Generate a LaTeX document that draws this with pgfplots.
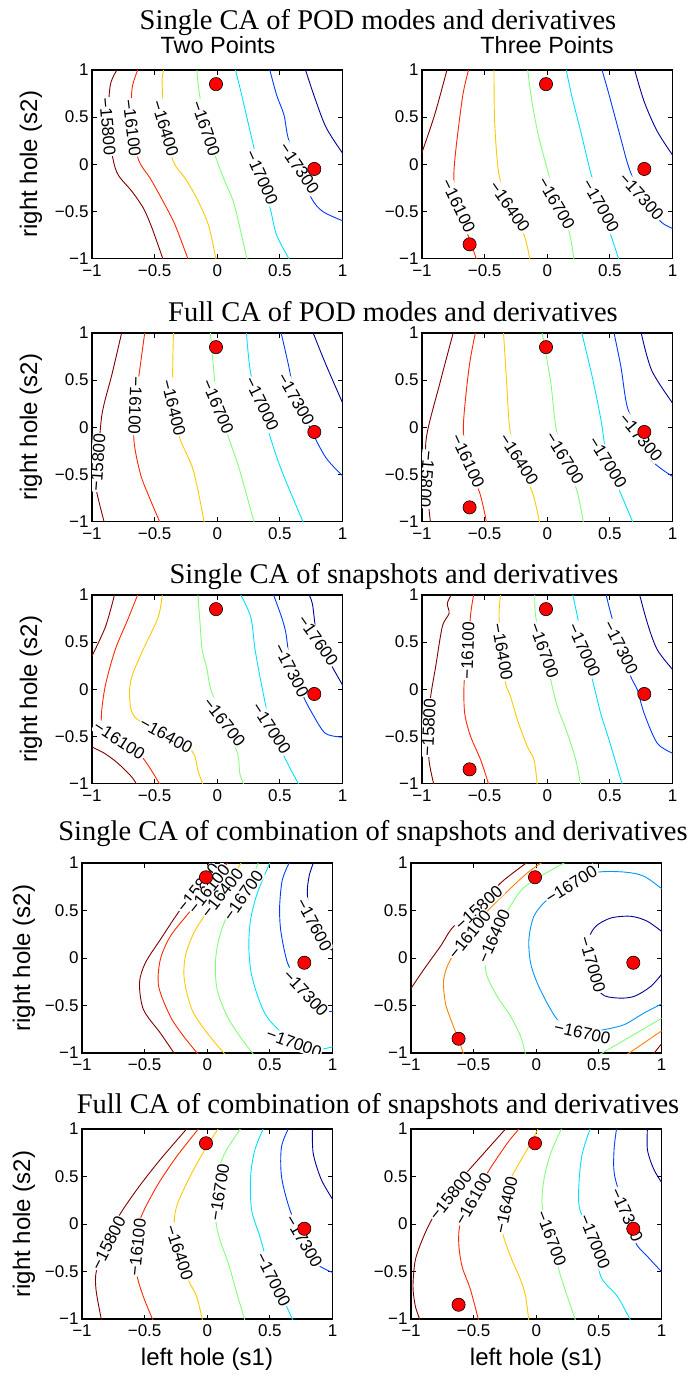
\documentclass[border=0pt]{standalone}
\usepackage{fontspec}
\setmainfont{Liberation Sans}
\newfontfamily\tnr{Liberation Serif}
\usepackage{pgfplots}
\pgfplotsset{compat=1.18}

\definecolor{c158}{RGB}{128,0,0}
\definecolor{c161}{RGB}{255,40,0}
\definecolor{c164}{RGB}{255,200,0}
\definecolor{c167}{RGB}{130,255,120}
\definecolor{c170}{RGB}{0,225,255}
\definecolor{c173}{RGB}{0,60,255}
\definecolor{c176}{RGB}{0,0,150}
\definecolor{q161}{RGB}{255,128,0}
\definecolor{q167}{RGB}{0,150,255}

\pgfplotsset{
  panel/.style={scale only axis, width=250.5pt, height=188.5pt, anchor=north west,
    xmin=-1, xmax=1, ymin=-1, ymax=1,
    xtick={-1,-0.5,0,0.5,1}, ytick={-1,-0.5,0,0.5,1},
    xticklabels={−1,−0.5,0,0.5,1}, yticklabels={−1,−0.5,0,0.5,1},
    tick align=inside, major tick length=4.5pt,
    tick style={black, line width=0.8pt},
    axis line style={line width=1.1pt},
    tick label style={font=\fontsize{17}{17}\selectfont},
    xticklabel style={yshift=-2.5pt},
  },
  cl/.style={line width=0.9pt, smooth, tension=0.5},
  dots/.style={only marks, mark=*, mark size=6.6pt,
    mark options={fill=red, draw=black, line width=0.6pt}},
}
\tikzset{lab/.style={font=\fontsize{17}{17}\selectfont, fill=white, inner sep=0.8pt}}

\begin{document}
\begin{tikzpicture}[x=1pt,y=1pt]
\useasboundingbox (0,0) rectangle (689,-1376);

% titles
\tikzset{ttl/.style={anchor=base, font=\tnr\fontsize{28.5}{28.5}\selectfont}}
\node[ttl] at (378,-29) {Single CA of POD modes and derivatives};
\node[ttl] at (393,-321) {Full CA of POD modes and derivatives};
\node[ttl] at (394,-583) {Single CA of snapshots and derivatives};
\node[ttl] at (373,-840) {Single CA of combination of snapshots and derivatives};
\node[ttl] at (378,-1113) {Full CA of combination of snapshots and derivatives};
\node[anchor=base, font=\fontsize{23.5}{23.5}\selectfont] at (218,-53) {Two Points};
\node[anchor=base, font=\fontsize{23.5}{23.5}\selectfont] at (547,-53) {Three Points};
\foreach \xx/\yy in {31/-164, 31/-427, 31/-689, 24/-958, 24/-1224}
  \node[rotate=90, font=\fontsize{24}{24}\selectfont] at (\xx,\yy) {right hole (s2)};
\node[anchor=base, font=\fontsize{24}{24}\selectfont] at (207,-1365) {left hole (s1)};
\node[anchor=base, font=\fontsize{24}{24}\selectfont] at (536,-1365) {left hole (s1)};

% ---- row 1 left
\begin{axis}[panel, at={(92pt,-70pt)}]
\addplot[cl, c158] coordinates {(-0.79,1.02) (-0.854,0.84) (-0.87,0.42) (-0.833,0.06) (-0.79,-0.115) (-0.68,-0.29) (-0.588,-0.47) (-0.52,-0.68) (-0.43,-1.02)};
\addplot[cl, c161] coordinates {(-0.628,1.02) (-0.68,0.805) (-0.685,0.4) (-0.628,0.044) (-0.535,-0.15) (-0.43,-0.40) (-0.336,-0.646) (-0.23,-1.02)};
\addplot[cl, c164] coordinates {(-0.424,1.02) (-0.44,0.876) (-0.42,0.4) (-0.35,0.027) (-0.256,-0.15) (-0.163,-0.363) (-0.07,-0.646) (-0.009,-1.02)};
\addplot[cl, c167] coordinates {(-0.163,1.02) (-0.15,0.823) (-0.097,0.398) (-0.004,0.044) (0.062,-0.186) (0.129,-0.398) (0.182,-0.681) (0.24,-1.02)};
\addplot[cl, c170] coordinates {(0.142,1.02) (0.195,0.735) (0.288,0.204) (0.355,-0.143) (0.426,-0.487) (0.474,-0.752) (0.58,-1.02)};
\addplot[cl, c173] coordinates {(0.416,1.02) (0.474,0.735) (0.533,0.522) (0.567,0.274) (0.655,-0.044) (0.753,-0.363) (0.846,-0.504) (1.02,-0.61)};
\addplot[cl, c176] coordinates {(0.7,1.02) (0.78,0.70) (0.873,0.38) (1.02,0.08)};
\node[lab, rotate=-85] at (axis cs:-0.875,0.398) {−15800};
\node[lab, rotate=-83] at (axis cs:-0.681,0.388) {−16100};
\node[lab, rotate=-73] at (axis cs:-0.416,0.381) {−16400};
\node[lab, rotate=-71] at (axis cs:-0.092,0.381) {−16700};
\node[lab, rotate=-66] at (axis cs:0.355,-0.143) {−17000};
\node[lab, rotate=-56] at (axis cs:0.655,-0.044) {−17300};
\addplot[dots] coordinates {(-0.01,0.85) (0.775,-0.05)};
\end{axis}

% ---- row 1 right
\begin{axis}[panel, at={(422pt,-70pt)}]
\addplot[cl, c158] coordinates {(-1.02,0.05) (-0.9,0.52) (-0.797,1.02)};
\addplot[cl, c161] coordinates {(-0.624,1.02) (-0.678,0.7) (-0.745,-0.08) (-0.71,-0.441) (-0.585,-0.93) (-0.563,-1.02)};
\addplot[cl, c164] coordinates {(-0.425,1.02) (-0.42,0.45) (-0.385,-0.115) (-0.3,-0.451) (-0.185,-0.75) (-0.137,-1.02)};
\addplot[cl, c167] coordinates {(-0.158,1.02) (-0.118,0.628) (-0.065,0.274) (0.009,-0.097) (0.073,-0.416) (0.174,-0.717) (0.214,-1.02)};
\addplot[cl, c170] coordinates {(0.148,1.02) (0.2,0.7) (0.268,0.345) (0.348,-0.097) (0.427,-0.441) (0.507,-0.75) (0.574,-1.02)};
\addplot[cl, c173] coordinates {(0.433,1.02) (0.494,0.735) (0.587,0.274) (0.654,-0.044) (0.752,-0.345) (0.907,-0.61) (1.02,-0.69)};
\addplot[cl, c176] coordinates {(0.694,1.02) (0.774,0.664) (0.88,0.345) (1.02,0.06)};
\node[lab, rotate=-64] at (axis cs:-0.71,-0.441) {−16100};
\node[lab, rotate=-55] at (axis cs:-0.3,-0.451) {−16400};
\node[lab, rotate=-60] at (axis cs:0.073,-0.416) {−16700};
\node[lab, rotate=-60] at (axis cs:0.427,-0.441) {−17000};
\node[lab, rotate=-48] at (axis cs:0.752,-0.345) {−17300};
\addplot[dots] coordinates {(-0.01,0.85) (0.775,-0.05) (-0.62,-0.85)};
\end{axis}

% ---- row 2 left
\begin{axis}[panel, at={(92pt,-333pt)}]
\addplot[cl, c158] coordinates {(-0.76,1.02) (-0.84,0.565) (-0.92,0.14) (-0.954,-0.373) (-0.98,-0.57) (-0.9,-1.02)};
\addplot[cl, c161] coordinates {(-0.577,1.02) (-0.62,0.6) (-0.655,0.228) (-0.665,-0.143) (-0.613,-0.497) (-0.542,-0.745) (-0.454,-1.02)};
\addplot[cl, c164] coordinates {(-0.349,1.02) (-0.356,0.582) (-0.349,0.211) (-0.296,-0.126) (-0.19,-0.462) (-0.102,-1.02)};
\addplot[cl, c167] coordinates {(-0.056,1.02) (-0.03,0.635) (0.004,0.218) (0.09,-0.108) (0.18,-0.46) (0.296,-1.02)};
\addplot[cl, c170] coordinates {(0.232,1.02) (0.268,0.565) (0.356,0.246) (0.415,-0.07) (0.514,-0.46) (0.69,-1.02)};
\addplot[cl, c173] coordinates {(0.507,1.02) (0.567,0.67) (0.627,0.299) (0.725,0.034) (0.866,-0.32) (1.02,-0.54)};
\addplot[cl, c176] coordinates {(0.76,1.02) (0.866,0.67) (1.02,0.2)};
\node[lab, rotate=86] at (axis cs:-0.954,-0.373) {−15800};
\node[lab, rotate=-92] at (axis cs:-0.655,0.228) {−16100};
\node[lab, rotate=-76] at (axis cs:-0.349,0.211) {−16400};
\node[lab, rotate=-67] at (axis cs:0.004,0.218) {−16700};
\node[lab, rotate=-64] at (axis cs:0.356,0.246) {−17000};
\node[lab, rotate=-60] at (axis cs:0.627,0.299) {−17300};
\addplot[dots] coordinates {(-0.01,0.85) (0.775,-0.05)};
\end{axis}

% ---- row 2 right
\begin{axis}[panel, at={(422pt,-333pt)}]
\addplot[cl, c158] coordinates {(-0.747,1.02) (-0.852,0.494) (-0.965,-0.108) (-0.965,-0.55) (-0.94,-0.92) (-0.93,-1.02)};
\addplot[cl, c161] coordinates {(-0.571,1.02) (-0.624,0.635) (-0.67,0.0) (-0.634,-0.356) (-0.536,-0.71) (-0.483,-1.02)};
\addplot[cl, c164] coordinates {(-0.35,1.02) (-0.325,0.494) (-0.297,-0.037) (-0.227,-0.338) (-0.114,-0.71) (-0.06,-1.02)};
\addplot[cl, c167] coordinates {(-0.044,1.02) (0.026,0.494) (0.069,0) (0.139,-0.327) (0.237,-0.674) (0.29,-1.02)};
\addplot[cl, c170] coordinates {(0.272,1.02) (0.36,0.53) (0.43,0.07) (0.483,-0.373) (0.589,-0.71) (0.687,-1.02)};
\addplot[cl, c173] coordinates {(0.53,1.02) (0.589,0.635) (0.64,0.21) (0.747,-0.108) (0.835,-0.356) (1.02,-0.54)};
\addplot[cl, c176] coordinates {(0.747,1.02) (0.835,0.6) (1.02,0.22)};
\node[lab, rotate=-95] at (axis cs:-0.962,-0.55) {−15800};
\node[lab, rotate=-65] at (axis cs:-0.634,-0.356) {−16100};
\node[lab, rotate=-57] at (axis cs:-0.227,-0.338) {−16400};
\node[lab, rotate=-58] at (axis cs:0.139,-0.327) {−16700};
\node[lab, rotate=-58] at (axis cs:0.483,-0.373) {−17000};
\node[lab, rotate=-50] at (axis cs:0.747,-0.108) {−17300};
\addplot[dots] coordinates {(-0.01,0.85) (0.775,-0.05) (-0.62,-0.85)};
\end{axis}

% ---- row 3 left
\begin{axis}[panel, at={(92pt,-595pt)}]
\addplot[cl, c158] coordinates {(-0.817,1.02) (-0.894,0.658) (-1.02,0.3)};
\addplot[cl, c158] coordinates {(-1.02,-0.6) (-0.9,-0.68) (-0.789,-0.79) (-0.683,-0.93) (-0.64,-1.02)};
\addplot[cl, c161] coordinates {(-0.63,1.02) (-0.718,0.728) (-0.817,0.411) (-0.901,-0.012) (-0.92,-0.4) (-0.782,-0.541) (-0.6,-0.72) (-0.454,-1.02)};
\addplot[cl, c164] coordinates {(-0.437,1.02) (-0.472,0.764) (-0.595,0.411) (-0.683,0.129) (-0.7,-0.083) (-0.655,-0.3) (-0.408,-0.489) (-0.2,-0.66) (-0.155,-0.86) (-0.113,-1.02)};
\addplot[cl, c167] coordinates {(-0.155,1.02) (-0.137,0.693) (-0.12,0.411) (-0.085,0.235) (-0.049,-0.012) (0.056,-0.347) (0.162,-0.683) (0.18,-0.894) (0.215,-1.02)};
\addplot[cl, c170] coordinates {(0.18,1.02) (0.268,0.764) (0.303,0.411) (0.373,-0.083) (0.433,-0.418) (0.549,-0.753) (0.655,-1.02)};
\addplot[cl, c173] coordinates {(0.444,1.02) (0.514,0.764) (0.549,0.587) (0.592,0.199) (0.69,-0.083) (0.76,-0.26) (0.866,-0.47) (1.02,-0.51)};
\addplot[cl, c176] coordinates {(0.725,1.02) (0.76,0.905) (0.803,0.517) (0.919,0.235) (1.02,0.0)};
\node[lab, rotate=-33] at (axis cs:-0.782,-0.541) {−16100};
\node[lab, rotate=-29] at (axis cs:-0.408,-0.489) {−16400};
\node[lab, rotate=-52] at (axis cs:0.056,-0.347) {−16700};
\node[lab, rotate=-57] at (axis cs:0.433,-0.418) {−17000};
\node[lab, rotate=-63] at (axis cs:0.592,0.199) {−17300};
\node[lab, rotate=-55] at (axis cs:0.803,0.517) {−17600};
\addplot[dots] coordinates {(-0.01,0.85) (0.775,-0.05)};
\end{axis}

% ---- row 3 right
\begin{axis}[panel, at={(422pt,-595pt)}]
\addplot[cl, c158] coordinates {(-0.758,1.02) (-0.798,0.912) (-0.784,0.805) (-0.838,0.664) (-0.891,0.239) (-0.931,-0.08) (-0.947,-0.405) (-0.944,-0.752) (-0.904,-1.02)};
\addplot[cl, c161] coordinates {(-0.585,1.02) (-0.611,0.805) (-0.635,0.409) (-0.664,0.062) (-0.659,-0.257) (-0.611,-0.504) (-0.531,-0.752) (-0.465,-1.02)};
\addplot[cl, c164] coordinates {(-0.372,1.02) (-0.385,0.77) (-0.358,0.398) (-0.332,0.062) (-0.292,-0.08) (-0.238,-0.327) (-0.158,-0.611) (-0.105,-0.752) (-0.079,-1.02)};
\addplot[cl, c167] coordinates {(-0.1,1.02) (-0.092,0.77) (-0.025,0.416) (0.028,0.097) (0.081,-0.186) (0.161,-0.469) (0.228,-0.752) (0.268,-1.02)};
\addplot[cl, c170] coordinates {(0.201,1.02) (0.241,0.77) (0.294,0.416) (0.361,0.097) (0.427,-0.257) (0.494,-0.54) (0.601,-1.02)};
\addplot[cl, c173] coordinates {(0.467,1.02) (0.507,0.805) (0.587,0.444) (0.667,0.133) (0.72,-0.009) (0.774,-0.257) (0.88,-0.575) (1.02,-0.69)};
\addplot[cl, c176] coordinates {(0.734,1.02) (0.8,0.7) (0.88,0.416) (1.02,0.18)};
\node[lab, rotate=87] at (axis cs:-0.947,-0.405) {−15800};
\node[lab, rotate=88] at (axis cs:-0.635,0.409) {−16100};
\node[lab, rotate=-80] at (axis cs:-0.358,0.398) {−16400};
\node[lab, rotate=-70] at (axis cs:-0.025,0.416) {−16700};
\node[lab, rotate=-66] at (axis cs:0.294,0.416) {−17000};
\node[lab, rotate=-63] at (axis cs:0.587,0.444) {−17300};
\addplot[dots] coordinates {(-0.01,0.85) (0.775,-0.05) (-0.62,-0.85)};
\end{axis}

% ---- row 4 left
\begin{axis}[panel, height=190pt, at={(82pt,-863pt)}]
\addplot[cl, c158] coordinates {(0.07,1.02) (-0.073,0.737) (-0.215,0.509) (-0.375,0.193) (-0.495,-0.053) (-0.541,-0.263) (-0.509,-0.544) (-0.375,-0.789) (-0.255,-1.02)};
\addplot[cl, c161] coordinates {(0.17,1.02) (0.012,0.726) (-0.148,0.474) (-0.295,0.228) (-0.375,-0.018) (-0.388,-0.298) (-0.295,-0.614) (-0.188,-0.825) (-0.068,-1.02)};
\addplot[cl, c164] coordinates {(0.279,1.02) (0.119,0.684) (-0.015,0.456) (-0.108,0.263) (-0.175,0.018) (-0.183,-0.228) (-0.122,-0.544) (-0.001,-0.789) (0.146,-1.02)};
\addplot[cl, c167] coordinates {(0.413,1.02) (0.287,0.656) (0.159,0.439) (0.092,0.193) (0.065,-0.053) (0.079,-0.333) (0.159,-0.614) (0.279,-0.86) (0.373,-1.02)};
\addplot[cl, c170] coordinates {(0.506,1.02) (0.4,0.684) (0.346,0.404) (0.332,0.123) (0.351,-0.158) (0.413,-0.439) (0.493,-0.649) (0.693,-0.895) (0.853,-0.965) (1.02,-0.93)};
\addplot[cl, c173] coordinates {(0.661,1.02) (0.6,0.825) (0.578,0.544) (0.586,0.298) (0.626,0.018) (0.666,-0.123) (0.786,-0.368) (0.92,-0.544) (1.02,-0.561)};
\addplot[cl, c176] coordinates {(0.853,1.02) (0.813,0.86) (0.8,0.649) (0.853,0.351) (0.96,0.123) (1.02,0.07)};
\node[lab, rotate=51] at (axis cs:-0.073,0.737) {−15800};
\node[lab, rotate=52] at (axis cs:0.012,0.726) {−16100};
\node[lab, rotate=52] at (axis cs:0.119,0.684) {−16400};
\node[lab, rotate=55] at (axis cs:0.287,0.656) {−16700};
\node[lab, rotate=-62] at (axis cs:0.853,0.351) {−17600};
\node[lab, rotate=-47] at (axis cs:0.786,-0.368) {−17300};
\node[lab, rotate=-20] at (axis cs:0.693,-0.895) {−17000};
\addplot[dots] coordinates {(-0.01,0.85) (0.775,-0.05)};
\end{axis}

% ---- row 4 right
\begin{axis}[panel, height=190pt, at={(411pt,-863pt)}]
\addplot[cl, c158] coordinates {(-1.02,-0.36) (-0.899,-0.123) (-0.765,0.123) (-0.659,0.333) (-0.459,0.526) (-0.285,0.789) (-0.059,1.02)};
\addplot[cl, c158] coordinates {(0.93,-1.02) (1.02,-0.87)};
\addplot[cl, q161] coordinates {(0.061,1.02) (-0.072,0.895) (-0.245,0.684) (-0.4,0.48) (-0.533,0.246) (-0.685,-0.018) (-0.739,-0.228) (-0.725,-0.474) (-0.672,-0.684) (-0.619,-0.86) (-0.579,-1.02)};
\addplot[cl, q161] coordinates {(0.72,-1.02) (1.02,-0.75)};
\addplot[cl, c167] coordinates {(0.25,1.02) (0.035,0.86) (-0.139,0.684) (-0.339,0.228) (-0.405,-0.018) (-0.392,-0.193) (-0.312,-0.404) (-0.205,-0.614) (-0.125,-0.825) (-0.085,-1.02)};
\addplot[cl, c167] coordinates {(0.5,-1.02) (0.755,-0.825) (1.02,-0.62)};
\addplot[cl, q167] coordinates {(1.02,0.71) (0.861,0.86) (0.701,0.905) (0.475,0.9) (0.288,0.789) (0.088,0.614) (-0.019,0.439) (-0.059,0.193) (-0.045,-0.053) (0.008,-0.263) (0.101,-0.509) (0.195,-0.684) (0.368,-0.789) (0.541,-0.754) (0.701,-0.702) (0.861,-0.579) (1.02,-0.47)};
\addplot[cl, c176] coordinates {(1.02,0.26) (0.888,0.386) (0.755,0.439) (0.595,0.421) (0.475,0.333) (0.421,0.193) (0.448,-0.07) (0.515,-0.368) (0.648,-0.421) (0.781,-0.404) (0.915,-0.298) (1.02,-0.14)};
\node[lab, rotate=42] at (axis cs:-0.459,0.526) {−15800};
\node[lab, rotate=51] at (axis cs:-0.533,0.246) {−16100};
\node[lab, rotate=66] at (axis cs:-0.339,0.228) {−16400};
\node[lab, rotate=32] at (axis cs:0.28,0.772) {−16700};
\node[lab, rotate=-13] at (axis cs:0.368,-0.789) {−16700};
\node[lab, rotate=-74] at (axis cs:0.448,-0.07) {−17000};
\addplot[dots] coordinates {(-0.01,0.85) (0.775,-0.05) (-0.62,-0.85)};
\end{axis}

% ---- row 5 left
\begin{axis}[panel, height=190pt, at={(82pt,-1129pt)}]
\addplot[cl, c158] coordinates {(-0.152,1.02) (-0.378,0.674) (-0.564,0.359) (-0.723,0.044) (-0.79,-0.201) (-0.883,-0.482) (-0.888,-0.692) (-0.843,-1.02)};
\addplot[cl, c161] coordinates {(-0.059,1.02) (-0.245,0.709) (-0.404,0.394) (-0.537,0.044) (-0.559,-0.243) (-0.564,-0.517) (-0.511,-0.762) (-0.431,-1.02)};
\addplot[cl, c164] coordinates {(0.096,1.02) (-0.005,0.814) (-0.138,0.499) (-0.245,0.184) (-0.263,-0.044) (-0.223,-0.3) (-0.152,-0.587) (-0.085,-0.762) (-0.037,-1.02)};
\addplot[cl, c167] coordinates {(0.274,1.02) (0.154,0.779) (0.101,0.604) (0.096,0.331) (0.069,0.044) (0.101,-0.166) (0.168,-0.412) (0.221,-0.657) (0.301,-1.02)};
\addplot[cl, c170] coordinates {(0.452,1.02) (0.38,0.779) (0.346,0.499) (0.354,0.149) (0.42,-0.131) (0.473,-0.377) (0.527,-0.587) (0.633,-0.867) (0.686,-1.02)};
\addplot[cl, c173] coordinates {(0.654,1.02) (0.593,0.814) (0.593,0.499) (0.66,0.149) (0.771,-0.184) (0.872,-0.412) (0.952,-0.482) (1.02,-0.52)};
\addplot[cl, c176] coordinates {(0.84,1.02) (0.846,0.744) (0.912,0.464) (1.02,0.22)};
\node[lab, rotate=63] at (axis cs:-0.79,-0.201) {−15800};
\node[lab, rotate=84] at (axis cs:-0.559,-0.243) {−16100};
\node[lab, rotate=-72] at (axis cs:-0.223,-0.3) {−16400};
\node[lab, rotate=81] at (axis cs:0.096,0.331) {−16700};
\node[lab, rotate=-63] at (axis cs:0.527,-0.587) {−17000};
\node[lab, rotate=-60] at (axis cs:0.771,-0.184) {−17300};
\addplot[dots] coordinates {(-0.01,0.85) (0.775,-0.05)};
\end{axis}

% ---- row 5 right
\begin{axis}[panel, height=190pt, at={(411pt,-1129pt)}]
\addplot[cl, c158] coordinates {(-0.232,1.02) (-0.419,0.744) (-0.605,0.464) (-0.685,0.296) (-0.819,0.079) (-0.899,-0.131) (-0.965,-0.377) (-0.984,-0.657) (-0.965,-0.867) (-0.925,-1.02)};
\addplot[cl, c161] coordinates {(-0.125,1.02) (-0.232,0.849) (-0.392,0.534) (-0.504,0.261) (-0.605,0.009) (-0.619,-0.201) (-0.592,-0.447) (-0.525,-0.692) (-0.459,-1.02)};
\addplot[cl, c164] coordinates {(0.021,1.02) (-0.045,0.849) (-0.152,0.604) (-0.219,0.429) (-0.24,0.201) (-0.272,-0.061) (-0.205,-0.342) (-0.125,-0.587) (-0.085,-0.762) (-0.059,-1.02)};
\addplot[cl, c167] coordinates {(0.208,1.02) (0.115,0.744) (0.061,0.464) (0.048,0.184) (0.12,-0.149) (0.181,-0.482) (0.221,-0.657) (0.315,-1.02)};
\addplot[cl, c170] coordinates {(0.435,1.02) (0.368,0.744) (0.341,0.429) (0.349,0.149) (0.467,-0.184) (0.515,-0.552) (0.648,-0.762) (0.755,-1.02)};
\addplot[cl, c173] coordinates {(0.643,1.02) (0.621,0.779) (0.627,0.499) (0.723,0.096) (0.795,-0.201) (0.888,-0.342) (1.02,-0.53)};
\addplot[cl, c176] coordinates {(0.888,1.02) (0.888,0.779) (0.941,0.569) (1.02,0.4)};
\node[lab, rotate=51] at (axis cs:-0.685,0.296) {−15800};
\node[lab, rotate=60] at (axis cs:-0.504,0.261) {−16100};
\node[lab, rotate=78] at (axis cs:-0.24,0.201) {−16400};
\node[lab, rotate=-69] at (axis cs:0.12,-0.149) {−16700};
\node[lab, rotate=-68] at (axis cs:0.467,-0.184) {−17000};
\node[lab, rotate=-66] at (axis cs:0.723,0.096) {−17300};
\addplot[dots] coordinates {(-0.01,0.85) (0.775,-0.05) (-0.62,-0.85)};
\end{axis}
\end{tikzpicture}
\end{document}
